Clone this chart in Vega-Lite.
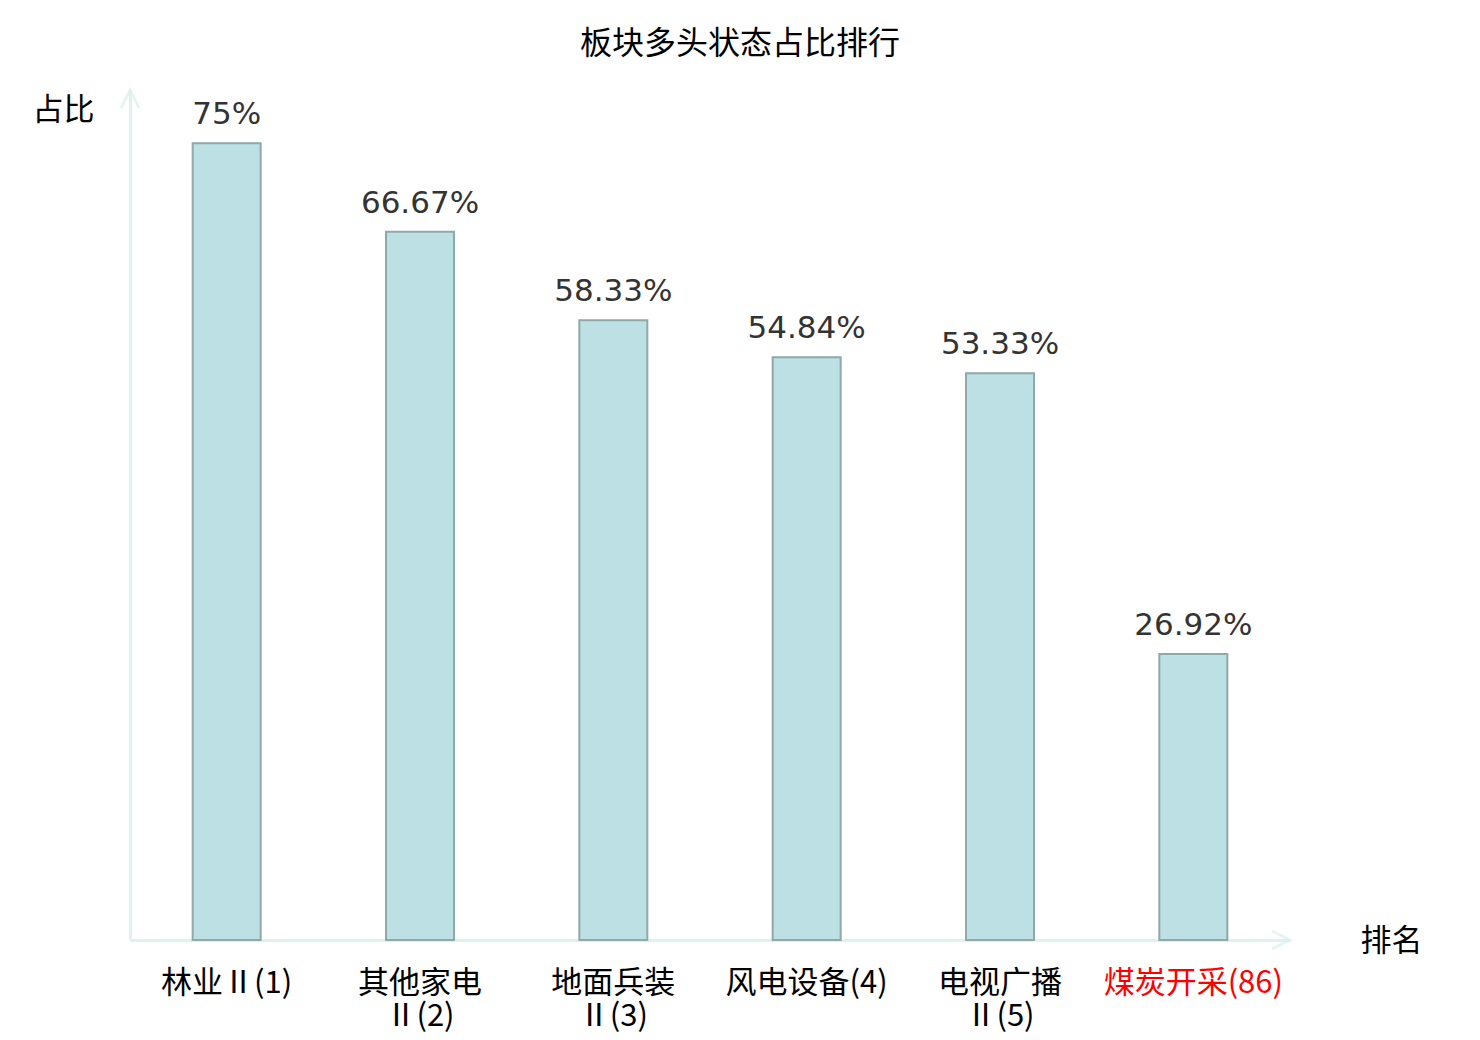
{
  "$schema": "https://vega.github.io/schema/vega-lite/v6.json",
  "autosize": "none",
  "width": 1160,
  "height": 850,
  "padding": {"left": 130, "top": 90, "right": 190, "bottom": 100},
  "background": "white",
  "title": {
    "text": "板块多头状态占比排行",
    "font": "Noto Sans CJK SC",
    "fontSize": 32,
    "fontWeight": "normal",
    "color": "#000000",
    "anchor": "middle",
    "dx": 30,
    "offset": 23
  },
  "config": {
    "view": {"stroke": null}
  },
  "data": {
    "values": [
      {"name": "林业Ⅱ(1)", "value": 75, "pct": "75%"},
      {"name": "其他家电\nⅡ(2)", "value": 66.67, "pct": "66.67%"},
      {"name": "地面兵装\nⅡ(3)", "value": 58.33, "pct": "58.33%"},
      {"name": "风电设备(4)", "value": 54.84, "pct": "54.84%"},
      {"name": "电视广播\nⅡ(5)", "value": 53.33, "pct": "53.33%"},
      {"name": "煤炭开采(86)", "value": 26.92, "pct": "26.92%"}
    ]
  },
  "encoding": {
    "x": {
      "field": "name",
      "type": "nominal",
      "sort": null,
      "scale": {"paddingInner": 0.65, "paddingOuter": 0.325},
      "axis": {
        "title": "排名",
        "titleFont": "Noto Sans CJK SC",
        "titleFontSize": 31,
        "titleFontWeight": "normal",
        "titleColor": "#000000",
        "titleAngle": 0,
        "titleAlign": "center",
        "titleBaseline": "middle",
        "titleX": 1261,
        "titleY": 1,
        "domainColor": "#dff2ef",
        "domainWidth": 3,
        "ticks": false,
        "labelAngle": 0,
        "labelFont": "DejaVu Sans ExtraLight, Noto Sans CJK SC",
        "labelFontSize": 31,
        "labelLineHeight": 33,
        "labelPadding": 28,
        "labelBaseline": "top",
        "labelExpr": "split(datum.label, '\\n')",
        "labelColor": {
          "condition": {"test": "indexof(datum.value, '煤炭开采') >= 0", "value": "#ff0000"},
          "value": "#000000"
        }
      }
    },
    "y": {
      "field": "value",
      "type": "quantitative",
      "scale": {"domain": [0, 80], "nice": false},
      "axis": {
        "title": "占比",
        "titleFont": "Noto Sans CJK SC",
        "titleFontSize": 31,
        "titleFontWeight": "normal",
        "titleColor": "#000000",
        "titleAngle": 0,
        "titleAlign": "center",
        "titleBaseline": "middle",
        "titleX": -67,
        "titleY": 20,
        "domainColor": "#dff2ef",
        "domainWidth": 3,
        "labels": false,
        "ticks": false,
        "grid": false
      }
    }
  },
  "layer": [
    {
      "mark": {"type": "bar", "width": 68, "fill": "#bce0e3", "stroke": "#8fa8a8", "strokeWidth": 2}
    },
    {
      "mark": {"type": "text", "font": "DejaVu Sans", "fontSize": 31, "color": "#333333", "baseline": "alphabetic", "dy": -19},
      "encoding": {"text": {"field": "pct"}}
    },
    {
      "data": {"values": [{"end": 80}]},
      "mark": {"type": "point", "shape": "M-1,2L0,0L1,2", "size": 324, "filled": false, "stroke": "#dcf0ed", "strokeWidth": 3},
      "encoding": {
        "x": {"value": 0},
        "y": {"field": "end", "type": "quantitative"}
      }
    },
    {
      "data": {"values": [{"end": 0}]},
      "mark": {"type": "point", "shape": "M-2,-1L0,0L-2,1", "size": 324, "filled": false, "stroke": "#dcf0ed", "strokeWidth": 3},
      "encoding": {
        "x": {"value": {"expr": "width"}},
        "y": {"field": "end", "type": "quantitative"}
      }
    }
  ]
}
